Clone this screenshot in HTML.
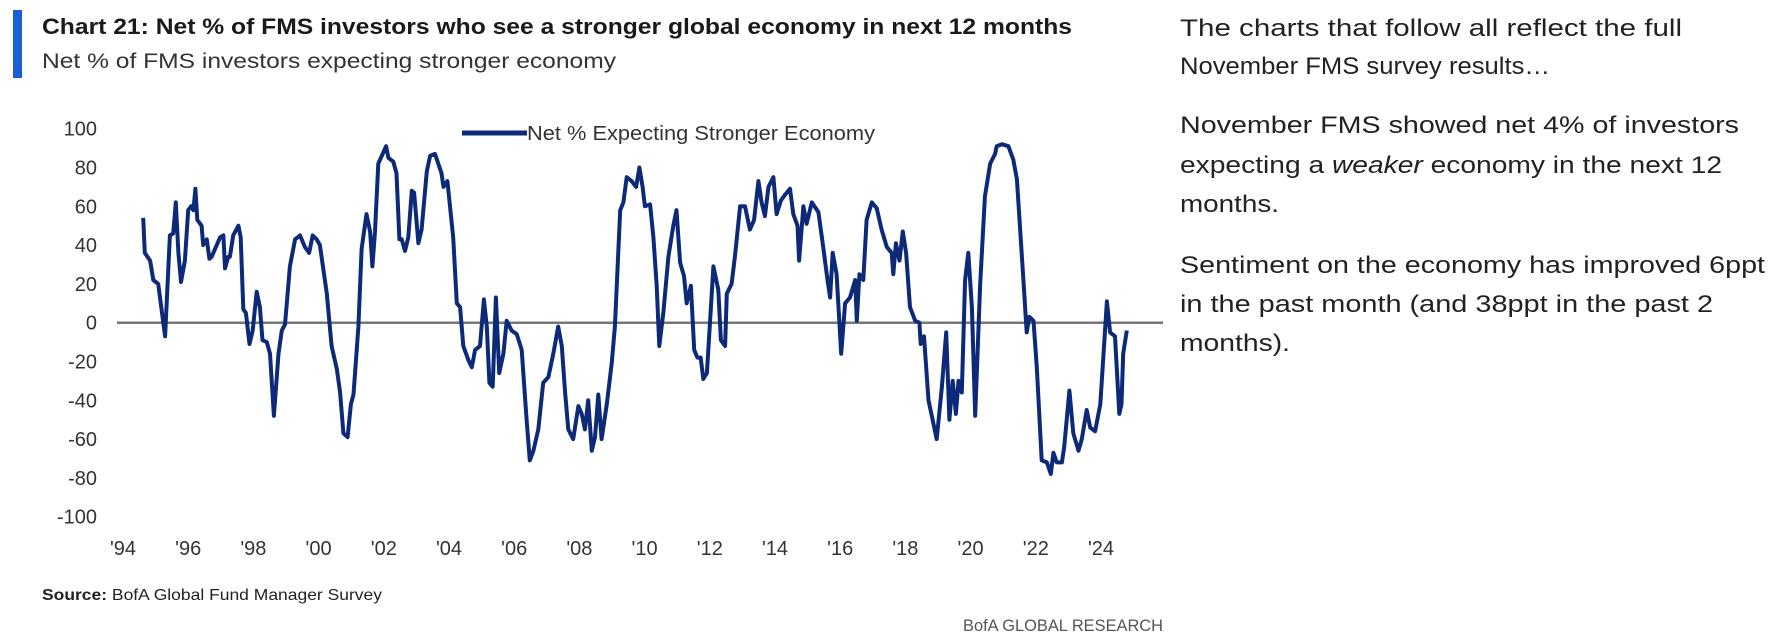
<!DOCTYPE html>
<html><head><meta charset="utf-8"><style>
html,body{margin:0;padding:0;background:#fff;}
svg{display:block;font-family:"Liberation Sans",sans-serif;}
</style></head><body>
<svg id="chart" width="1788" height="642" viewBox="0 0 1788 642" xmlns="http://www.w3.org/2000/svg">
<rect x="13" y="10" width="9" height="68" fill="#1a5fd6"/>
<text x="42" y="34" font-size="22" font-weight="bold" fill="#1a1a1a" textLength="1030" lengthAdjust="spacingAndGlyphs">Chart 21: Net % of FMS investors who see a stronger global economy in next 12 months</text>
<text x="42" y="68" font-size="21" fill="#333" textLength="574" lengthAdjust="spacingAndGlyphs">Net % of FMS investors expecting stronger economy</text>
<g font-size="24" fill="#222">
<text x="1180" y="36" textLength="502" lengthAdjust="spacingAndGlyphs">The charts that follow all reflect the full</text>
<text x="1180" y="74" textLength="370" lengthAdjust="spacingAndGlyphs">November FMS survey results…</text>
<text x="1180" y="133" textLength="559" lengthAdjust="spacingAndGlyphs">November FMS showed net 4% of investors</text>
<text x="1180" y="173" textLength="542" lengthAdjust="spacingAndGlyphs">expecting a <tspan font-style="italic">weaker</tspan> economy in the next 12</text>
<text x="1180" y="212" textLength="99" lengthAdjust="spacingAndGlyphs">months.</text>
<text x="1180" y="273" textLength="585" lengthAdjust="spacingAndGlyphs">Sentiment on the economy has improved 6ppt</text>
<text x="1180" y="312" textLength="533" lengthAdjust="spacingAndGlyphs">in the past month (and 38ppt in the past 2</text>
<text x="1180" y="351" textLength="110" lengthAdjust="spacingAndGlyphs">months).</text>
</g>
<g id="yaxis"></g>
<g id="xaxis"></g>
<line id="zero" stroke="#777" stroke-width="2.5"/>
<path id="series" fill="none" stroke="#0c2a78" stroke-width="4" stroke-linejoin="round"/>
<g>
<line x1="462" y1="133" x2="527" y2="133" stroke="#0c2a78" stroke-width="5"/>
<text x="527" y="140" font-size="20" fill="#333" textLength="348" lengthAdjust="spacingAndGlyphs">Net % Expecting Stronger Economy</text>
</g>
<text x="42" y="600" font-size="16" fill="#222" textLength="340" lengthAdjust="spacingAndGlyphs"><tspan font-weight="bold">Source:</tspan> BofA Global Fund Manager Survey</text>
<text x="963" y="631" font-size="17" fill="#555" textLength="200" lengthAdjust="spacingAndGlyphs">BofA GLOBAL RESEARCH</text>
</svg>
<script>
const years=[1994.62,1994.67,1994.83,1994.93,1995.08,1995.29,1995.44,1995.54,1995.62,1995.70,1995.78,1995.90,1996.00,1996.09,1996.16,1996.22,1996.28,1996.41,1996.46,1996.57,1996.65,1996.72,1996.98,1997.08,1997.13,1997.23,1997.28,1997.38,1997.54,1997.61,1997.69,1997.77,1997.88,1997.98,1998.10,1998.20,1998.28,1998.41,1998.51,1998.63,1998.77,1998.87,1998.97,1999.12,1999.28,1999.43,1999.58,1999.71,1999.82,1999.94,2000.04,2000.25,2000.40,2000.56,2000.66,2000.76,2000.89,2000.99,2001.07,2001.22,2001.32,2001.47,2001.58,2001.65,2001.73,2001.83,2001.99,2002.07,2002.14,2002.29,2002.39,2002.48,2002.55,2002.65,2002.75,2002.86,2002.93,2003.06,2003.16,2003.32,2003.42,2003.57,2003.77,2003.83,2003.95,2004.13,2004.24,2004.34,2004.44,2004.59,2004.70,2004.80,2004.95,2005.07,2005.16,2005.24,2005.34,2005.44,2005.54,2005.67,2005.77,2005.92,2006.08,2006.23,2006.38,2006.48,2006.59,2006.74,2006.89,2007.05,2007.20,2007.35,2007.46,2007.56,2007.66,2007.81,2007.97,2008.07,2008.17,2008.27,2008.38,2008.48,2008.58,2008.68,2008.84,2008.99,2009.09,2009.25,2009.35,2009.45,2009.60,2009.74,2009.84,2009.94,2010.01,2010.17,2010.27,2010.37,2010.45,2010.58,2010.73,2010.88,2010.98,2011.09,2011.21,2011.29,2011.42,2011.52,2011.62,2011.72,2011.80,2011.91,2012.11,2012.26,2012.34,2012.47,2012.52,2012.67,2012.77,2012.93,2013.08,2013.23,2013.36,2013.49,2013.59,2013.69,2013.80,2013.95,2014.05,2014.18,2014.31,2014.46,2014.56,2014.69,2014.74,2014.87,2014.97,2015.13,2015.33,2015.48,2015.61,2015.69,2015.77,2015.89,2016.03,2016.15,2016.30,2016.46,2016.51,2016.59,2016.71,2016.81,2016.97,2017.12,2017.27,2017.43,2017.58,2017.63,2017.71,2017.82,2017.92,2018.02,2018.14,2018.30,2018.43,2018.47,2018.57,2018.71,2018.96,2019.12,2019.25,2019.35,2019.45,2019.55,2019.63,2019.73,2019.83,2019.93,2020.04,2020.14,2020.29,2020.44,2020.60,2020.75,2020.80,2020.96,2021.16,2021.31,2021.42,2021.62,2021.72,2021.80,2021.93,2022.03,2022.18,2022.34,2022.46,2022.54,2022.64,2022.80,2022.87,2023.03,2023.15,2023.31,2023.41,2023.56,2023.67,2023.82,2023.98,2024.18,2024.28,2024.43,2024.56,2024.63,2024.68,2024.79];
const values=[54,36,32,22,20,-7,45,46,62,36,21,32,58,60,58,69,53,50,40,43,33,34,44,45,28,34,34,45,50,44,7,5,-11,-4,16,8,-9,-10,-16,-48,-16,-4,-1,29,43,45,39,36,45,43,40,15,-12,-24,-36,-57,-59,-42,-37,-2,38,56,47,29,47,82,88,91,85,83,77,43,43,37,44,68,67,41,48,78,86,87,77,70,73,44,10,8,-12,-19,-23,-14,-12,12,-2,-31,-33,13,-26,-16,1,-4,-6,-14,-50,-71,-66,-55,-31,-28,-16,-2,-12,-36,-55,-60,-43,-47,-55,-40,-66,-59,-37,-60,-42,-21,-2,58,62,75,73,70,80,70,60,61,44,19,-12,6,34,50,58,31,24,10,19,-14,-18,-18,-29,-26,29,17,-9,-12,15,20,34,60,60,48,53,73,62,55,70,75,56,63,66,69,56,50,32,60,51,62,57,39,22,13,36,25,-16,10,13,22,1,25,22,53,62,59,48,39,36,25,41,32,47,36,8,1,0,-11,-7,-40,-60,-33,-5,-50,-30,-47,-30,-36,22,36,8,-48,19,65,82,87,91,92,91,84,74,22,-5,3,1,-23,-71,-72,-78,-67,-72,-72,-64,-35,-57,-66,-60,-45,-54,-56,-42,11,-5,-7,-47,-42,-16,-4];
const yTicks=[100,80,60,40,20,0,-20,-40,-60,-80,-100];
const yTickLabels=["100","80","60","40","20","0","-20","-40","-60","-80","-100"];
const xTicks=[1994,1996,1998,2000,2002,2004,2006,2008,2010,2012,2014,2016,2018,2020,2022,2024];
const xTickLabels=["'94","'96","'98","'00","'02","'04","'06","'08","'10","'12","'14","'16","'18","'20","'22","'24"];
const NS="http://www.w3.org/2000/svg";
function xScale(yr){return 123+(yr-1994)*32.6;}
function yScale(v){return 322.7-v*1.94;}
const ya=document.getElementById('yaxis');
yTicks.forEach((v,i)=>{const t=document.createElementNS(NS,'text');


t.setAttribute('x',97);t.setAttribute('y',yScale(v)+7);t.setAttribute('text-anchor','end');
t.setAttribute('font-size','20');t.setAttribute('fill','#333');t.textContent=yTickLabels[i];ya.appendChild(t);});
const xa=document.getElementById('xaxis');
xTicks.forEach((yr,i)=>{const t=document.createElementNS(NS,'text');


t.setAttribute('x',xScale(yr));t.setAttribute('y',555);t.setAttribute('text-anchor','middle');
t.setAttribute('font-size','20');t.setAttribute('fill','#333');t.textContent=xTickLabels[i];xa.appendChild(t);});
const z=document.getElementById('zero');
z.setAttribute('x1',117);z.setAttribute('x2',1163);z.setAttribute('y1',yScale(0));z.setAttribute('y2',yScale(0));
let d='';years.forEach((yr,i)=>{d+=(i?'L':'M')+xScale(yr).toFixed(1)+','+yScale(values[i]).toFixed(1);});
document.getElementById('series').setAttribute('d',d);
</script>
</body></html>
